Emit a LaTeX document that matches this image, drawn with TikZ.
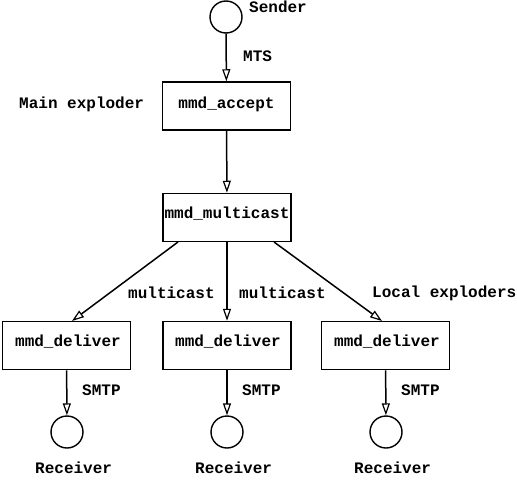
\documentclass[tikz,border=0pt]{standalone}
\usepackage{fontspec}
\setmainfont{Liberation Mono}
\usetikzlibrary{arrows.meta}
\begin{document}
\begin{tikzpicture}[x=1pt,y=-1pt,
  every node/.style={font=\fontsize{16}{18}\selectfont\bfseries},
  box/.style={draw,line width=1.5pt,minimum width=128pt,minimum height=48pt,inner sep=0pt},
  boxtext/.style={inner sep=0pt},
  term/.style={draw,circle,line width=1.4pt,minimum size=32pt,inner sep=0pt},
  lbl/.style={inner sep=0pt,anchor=west},
  conn/.style={line width=1.5pt,-{Triangle[open,length=12pt,width=8pt,line width=1.2pt]}}]
\useasboundingbox (0,0) rectangle (517,482);
\node[term] (sender) at (226,17) {};
\node[box] (accept) at (226.5,106) {};
\node[box] (mcast) at (227,217.5) {};
\node[box] (d1) at (66.5,345.5) {};
\node[box] (d2) at (227,345.5) {};
\node[box] (d3) at (385.5,345.5) {};
\node[boxtext] (ta) at (226.5,104) {mmd\_accept};
\node[boxtext] (tm) at (227,214) {mmd\_multicast};
\node[boxtext] (t1x) at (68,342) {mmd\_deliver};
\node[boxtext] (t2x) at (228,342) {mmd\_deliver};
\node[boxtext] (t3x) at (387,342) {mmd\_deliver};
\node[term] (r1) at (67,432) {};
\node[term] (r2) at (227,432) {};
\node[term] (r3) at (386,432) {};
\coordinate (m1) at (178,242);
\coordinate (m3) at (274,242);
\coordinate (t1) at (72,321);
\coordinate (t3) at (382,321);
\draw[conn] (sender) -- (accept);
\draw[conn] (accept) -- (mcast);
\draw[conn] (m1) -- (t1);
\draw[conn] (mcast) -- (d2);
\draw[conn] (m3) -- (t3);
\draw[conn] (d1) -- (r1);
\draw[conn] (d2) -- (r2);
\draw[conn] (d3) -- (r3);
\node[lbl] (ls) at (249,7) {Sender};
\node[lbl] (lm) at (243,56) {MTS};
\node[lbl] (le) at (19,104) {Main exploder};
\node[lbl] (lc1) at (128,293) {multicast};
\node[lbl] (lc2) at (239,293) {multicast};
\node[lbl] (lx) at (372,293) {Local exploders};
\node[lbl] (s1) at (82,390) {SMTP};
\node[lbl] (s2) at (242,390) {SMTP};
\node[lbl] (s3) at (401,390) {SMTP};
\node[lbl] (rl1) at (35,468) {Receiver};
\node[lbl] (rl2) at (195,468) {Receiver};
\node[lbl] (rl3) at (354,468) {Receiver};
\end{tikzpicture}
\end{document}
